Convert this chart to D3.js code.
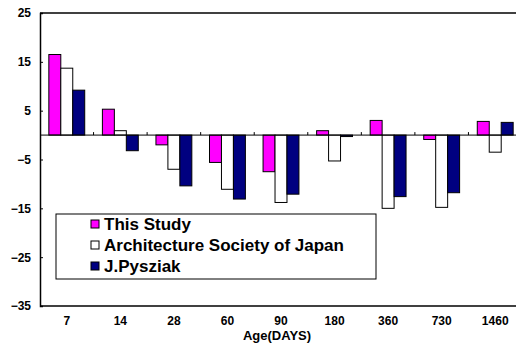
<!DOCTYPE html>
<html>
  <head>
    <meta charset="utf-8">
    <script src="https://d3js.org/d3.v7.min.js"></script>
    <style>
      body { margin: 0; background: white; }
      svg { display: block; }
      text { font-family: "Liberation Sans", Arial, sans-serif; font-weight: bold; }
    </style>
  </head>
  <body>
    <div id="chart"></div>
    <script>
      // data
      const ages = ['7', '14', '28', '60', '90', '180', '360', '730', '1460']
      const seriesNames = ['This Study', 'Architecture Society of Japan', 'J.Pysziak']
      const thisStudy = [16.5, 5.3, -2.0, -5.6, -7.5, 0.9, 3.0, -0.9, 2.8]
      const archJapan = [13.7, 0.9, -7.0, -11.1, -13.8, -5.3, -15.0, -14.8, -3.5]
      const pysziak = [9.2, -3.2, -10.4, -13.1, -12.1, -0.3, -12.6, -11.8, 2.6]
      const yTicks = [25, 15, 5, -5, -15, -25, -35]
      const colors = ['#ff00ff', '#ffffff', '#000080']
      const allSeries = [thisStudy, archJapan, pysziak]

      const W = 516, H = 346
      const mLeft = 40, mRight = 522, mTop = 13, mBottom = 306

      const svg = d3.select('#chart').append('svg')
        .attr('width', W).attr('height', H)

      const y = d3.scaleLinear().domain([-35, 25]).range([mBottom, mTop])
      const x = d3.scaleBand().domain(ages).range([mLeft, mRight])
        .paddingInner(0.33).paddingOuter(0.165)
      const xs = d3.scaleBand().domain([0, 1, 2]).range([0, x.bandwidth()])

      // frame: top and bottom
      svg.append('line').attr('x1', mLeft).attr('x2', W).attr('y1', mTop).attr('y2', mTop)
        .attr('stroke', '#000').attr('stroke-width', 1.5)
      svg.append('line').attr('x1', mLeft).attr('x2', W).attr('y1', mBottom).attr('y2', mBottom)
        .attr('stroke', '#000').attr('stroke-width', 1.5)

      // y axis
      const yAxis = svg.append('g').attr('transform', `translate(${mLeft},0)`)
        .call(d3.axisLeft(y).tickValues(yTicks).tickSize(-3).tickPadding(9))
      yAxis.select('.domain').attr('stroke-width', 1.5)
      yAxis.selectAll('text').attr('font-size', 12).attr('fill', '#000')
        .style('font-family', '"Liberation Sans", Arial, sans-serif')
      yAxis.selectAll('.tick').filter(d => d === 25 || d === -35).select('line').remove()

      // bars
      const groups = svg.selectAll('g.grp')
        .data(ages)
        .join('g').attr('class', 'grp')
        .attr('transform', d => `translate(${x(d)},0)`)
      groups.selectAll('rect')
        .data((d, i) => allSeries.map((s, k) => ({k, v: s[i]})))
        .join('rect')
          .attr('x', d => xs(d.k))
          .attr('width', xs.bandwidth())
          .attr('y', d => y(Math.max(0, d.v)))
          .attr('height', d => Math.abs(y(d.v) - y(0)))
          .attr('fill', d => colors[d.k])
          .attr('stroke', '#000')
          .attr('stroke-width', 1)

      // zero line with category ticks
      svg.append('line').attr('x1', mLeft).attr('x2', mRight).attr('y1', y(0)).attr('y2', y(0))
        .attr('stroke', '#000').attr('stroke-width', 1)
      const step = x.step()
      svg.selectAll('line.ztick')
        .data(ages.slice(1))
        .join('line').attr('class', 'ztick')
        .attr('x1', d => x(d) - step * 0.165).attr('x2', d => x(d) - step * 0.165)
        .attr('y1', y(0) - 3).attr('y2', y(0))
        .attr('stroke', '#000')

      // x tick labels
      svg.selectAll('text.xlab')
        .data(ages)
        .join('text').attr('class', 'xlab')
        .attr('x', d => x(d) + x.bandwidth() / 2)
        .attr('y', 325)
        .attr('text-anchor', 'middle')
        .attr('font-size', 12)
        .text(d => d)

      svg.append('text').attr('x', 277).attr('y', 340)
        .attr('text-anchor', 'middle').attr('font-size', 13)
        .text('Age(DAYS)')

      // legend
      const lg = svg.append('g')
      lg.append('rect').attr('x', 56).attr('y', 214).attr('width', 320).attr('height', 65)
        .attr('fill', '#fff').attr('stroke', '#000').attr('stroke-width', 1)
      seriesNames.forEach((name, i) => {
        const cy = 224 + i * 21
        lg.append('rect').attr('x', 91).attr('y', cy - 4).attr('width', 8).attr('height', 8)
          .attr('fill', colors[i]).attr('stroke', '#000')
        lg.append('text').attr('x', 104).attr('y', cy + 6)
          .attr('font-size', 17).text(name)
      })
    </script>
  </body>
</html>
